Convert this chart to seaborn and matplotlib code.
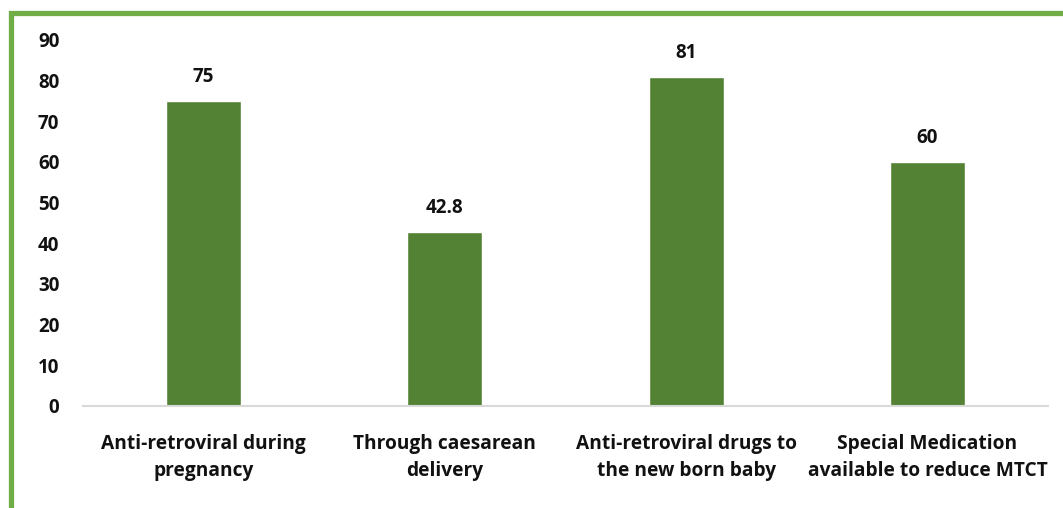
import matplotlib
matplotlib.use("Agg")
import matplotlib.pyplot as plt
import seaborn as sns
import pandas as pd
from matplotlib.patches import Rectangle

categories = ["Anti-retroviral during\npregnancy", "Through caesarean\ndelivery",
              "Anti-retroviral drugs to\nthe new born baby",
              "Special Medication\navailable to reduce MTCT"]
values = [75, 42.8, 81, 60]
value_labels = ["75", "42.8", "81", "60"]
y_ticks = [0, 10, 20, 30, 40, 50, 60, 70, 80, 90]

sns.set_style("white")
plt.rcParams["font.family"] = ["Open Sans", "DejaVu Sans"]
plt.rcParams["font.weight"] = "bold"

df = pd.DataFrame({"cat": categories, "val": values})

fig = plt.figure(figsize=(10.63, 5.08), dpi=100)
ax = fig.add_axes([0.078, 0.2008, 0.908, 0.7205])
sns.barplot(data=df, x="cat", y="val", color="#548235", saturation=1, width=0.31, ax=ax)

ax.set_ylim(0, 90)
ax.set_yticks(y_ticks)
ax.set_xlim(-0.5, 3.5)
ax.set_xlabel("")
ax.set_ylabel("")
for s in ["top", "right", "left"]:
    ax.spines[s].set_visible(False)
ax.spines["bottom"].set_color("#D9D9D9")
ax.spines["bottom"].set_linewidth(1.5)
ax.tick_params(axis="both", length=0)
ax.tick_params(axis="y", pad=17, labelsize=13.5)
ax.tick_params(axis="x", pad=20, labelsize=13.8)
for lab in ax.get_xticklabels() + ax.get_yticklabels():
    lab.set_fontweight("bold")
    lab.set_color("#111111")
for lab in ax.get_xticklabels():
    lab.set_linespacing(1.45)

for i, (v, t) in enumerate(zip(values, value_labels)):
    ax.annotate(t, (i, v), xytext=(0, 10), textcoords="offset points",
                ha="center", va="bottom", fontsize=13.5, fontweight="bold", color="#111111")

# green frame
fig.patches.append(Rectangle((10.5 / 1063, -0.2), 1.5, 1.2 - 12.5 / 508,
                             transform=fig.transFigure, fill=False,
                             edgecolor="#70AD47", linewidth=3.8))

fig.savefig("out.png", dpi=100)
